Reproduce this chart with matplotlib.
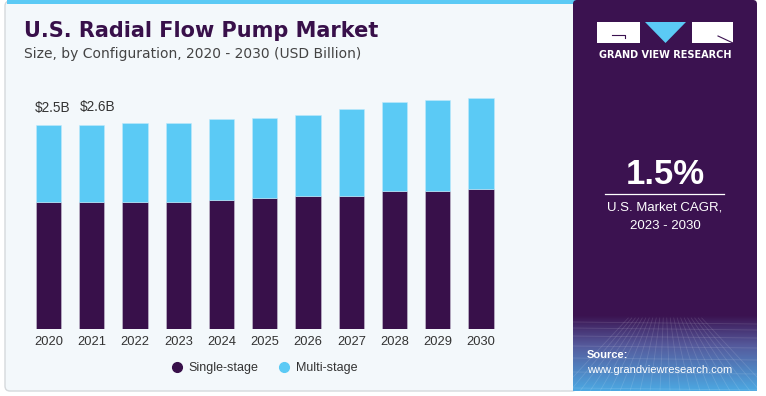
import numpy as np
import matplotlib.pyplot as plt
from matplotlib.patches import Rectangle, FancyBboxPatch, Polygon
from matplotlib.lines import Line2D

plt.rcParams['font.family'] = ['Liberation Sans', 'DejaVu Sans']

### Data ###
years = ['2020', '2021', '2022', '2023', '2024', '2025', '2026', '2027', '2028', '2029', '2030']
single_stage = [1.56, 1.56, 1.56, 1.56, 1.58, 1.60, 1.63, 1.63, 1.69, 1.69, 1.72]
multi_stage = [0.94, 0.94, 0.97, 0.97, 0.99, 0.99, 0.99, 1.06, 1.09, 1.12, 1.11]
value_labels = {0: '$2.5B', 1: '$2.6B'}
series_names = ['Single-stage', 'Multi-stage']

### Colours ###
purple = '#38104a'
cyan = '#5bcaf5'
panel = '#3b1250'
card = '#f3f8fb'
grey_txt = '#333333'

W, H = 766, 396
fig = plt.figure(figsize=(W/100, H/100), dpi=100)
fig.patch.set_facecolor('white')

# background axes in pixel coords
bg = fig.add_axes([0, 0, 1, 1], zorder=0)
bg.set_xlim(0, W)
bg.set_ylim(H, 0)
bg.axis('off')

# left card
bg.add_patch(FancyBboxPatch((5, 1), 572, 390, boxstyle='round,pad=0,rounding_size=5',
                            fc=card, ec='#d5d9dc', lw=1))
bg.add_patch(Rectangle((7, 0), 570, 4, fc=cyan, ec='none'))

# right panel
bg.add_patch(FancyBboxPatch((573, 0), 184, 391, boxstyle='round,pad=0,rounding_size=4',
                            fc=panel, ec='none'))
grad = np.linspace(0, 1, 80)
cols = np.array([[0x3b, 0x12, 0x50], [0x55, 0x5a, 0x9c], [0x4c, 0xa8, 0xe2]]) / 255.0
img = np.zeros((80, 1, 3))
for k in range(3):
    img[:, 0, k] = np.interp(grad, [0, 0.4, 1], cols[:, k])
bg.imshow(img, extent=(573, 757, 391, 315), aspect='auto', zorder=1)
# faint grid in the gradient area
for xx in np.linspace(560, 770, 22):
    bg.plot([665 + (xx - 665) * 0.35, xx], [318, 391], color='white', alpha=0.12, lw=0.6, zorder=2)
for yy in [322, 328, 336, 346, 358, 372, 388]:
    bg.plot([573, 757], [yy, yy + 2], color='white', alpha=0.12, lw=0.6, zorder=2)
bg.set_xlim(0, W)
bg.set_ylim(H, 0)

# logo
bg.add_patch(Rectangle((597, 22), 43, 21, fc='white', ec='none', zorder=3))
bg.add_patch(Polygon([[645, 22], [686, 22], [665.5, 43]], closed=True, fc=cyan, ec='none', zorder=3))
bg.add_patch(Rectangle((692, 22), 41, 21, fc='white', ec='none', zorder=3))
bg.plot([612, 625, 625], [35, 35, 38], color=panel, lw=0.8, zorder=4)
bg.plot([718, 733], [36, 43], color=panel, lw=0.8, zorder=4)
bg.text(665, 55, 'GRAND VIEW RESEARCH', color='white', fontsize=7, fontweight='bold',
        family='DejaVu Sans', ha='center', va='center', zorder=4)

# CAGR box
bg.text(665, 174, '1.5%', color='white', fontsize=25, fontweight='bold', ha='center', va='center', zorder=4)
bg.plot([605, 724], [194, 194], color='white', lw=0.9, zorder=4)
bg.text(665, 208, 'U.S. Market CAGR,', color='white', fontsize=9.5, ha='center', va='center', zorder=4)
bg.text(665, 226, '2023 - 2030', color='white', fontsize=9.5, ha='center', va='center', zorder=4)

# source
bg.text(587, 355, 'Source:', color='white', fontsize=8, fontweight='bold', ha='left', va='center', zorder=4)
bg.text(587, 370, 'www.grandviewresearch.com', color='white', fontsize=8, ha='left', va='center', zorder=4)

# titles
bg.text(24, 31, 'U.S. Radial Flow Pump Market', color=purple, fontsize=15, fontweight='bold',
        family='DejaVu Sans', ha='left', va='center')
bg.text(24, 54, 'Size, by Configuration, 2020 - 2030 (USD Billion)', color='#444444', fontsize=10,
        family='DejaVu Sans', ha='left', va='center')

### Bars ###
x = np.arange(len(years))
left_px, right_px = 26.9, 26.9 + 11 * 43.25
base_px, top_px = 329, 329 - 3.0 * 81.6
ax = fig.add_axes([left_px / W, (H - base_px) / H, (right_px - left_px) / W, (base_px - top_px) / H],
                  zorder=2)
ax.patch.set_alpha(0)
ax.bar(x, single_stage, width=0.58, color=purple, edgecolor='#c9c3d3', linewidth=0.4)
ax.bar(x, multi_stage, width=0.58, bottom=single_stage, color=cyan, edgecolor='#bfe9fb', linewidth=0.4)
ax.set_xlim(-0.5, 10.5)
ax.set_ylim(0, 3.0)
ax.set_xticks(x)
ax.set_xticklabels(years, fontsize=9.3, color=grey_txt)
ax.tick_params(axis='x', length=0, pad=5)
ax.set_yticks([])
for s in ax.spines.values():
    s.set_visible(False)

totals = np.array(single_stage) + np.array(multi_stage)
for i, lab in value_labels.items():
    ax.annotate(lab, (x[i], totals[i]), xytext=(3 + 1.5 * i, 12 + 0.8 * i), textcoords='offset points',
                ha='center', va='center', fontsize=9.8, color=grey_txt)

handles = [Line2D([], [], ls='none', marker='o', ms=7, color=purple),
           Line2D([], [], ls='none', marker='o', ms=7, color=cyan)]
fig.legend(handles, series_names, loc='center', bbox_to_anchor=(264 / W, 1 - 368 / H), ncol=2,
           frameon=False, fontsize=9, handlelength=1.0, handletextpad=0.4, columnspacing=1.6,
           labelcolor=grey_txt)

fig.savefig('out.png', dpi=100)
